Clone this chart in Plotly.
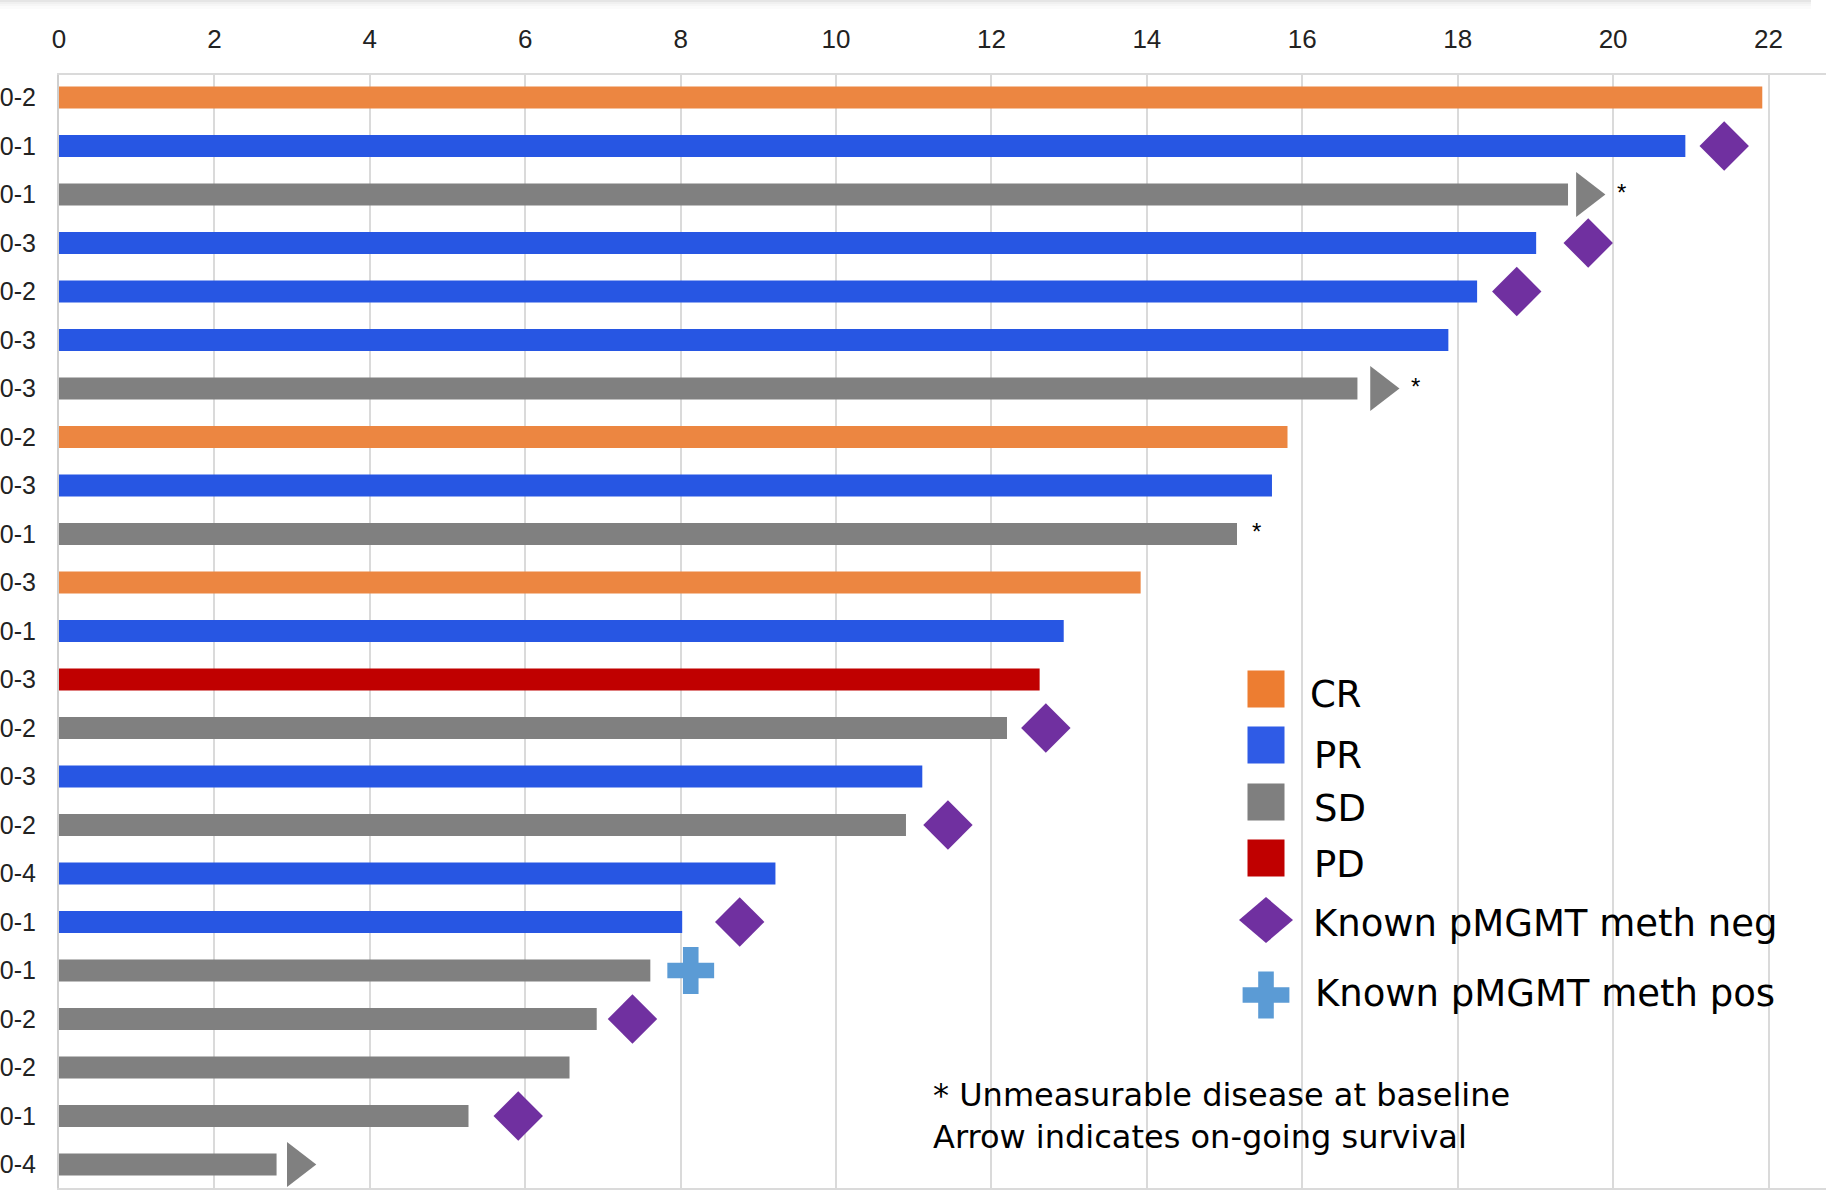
import plotly.graph_objects as go

# Patient rows, top to bottom
row_labels = ["0-2", "0-1", "0-1", "0-3", "0-2", "0-3", "0-3", "0-2", "0-3", "0-1",
              "0-3", "0-1", "0-3", "0-2", "0-3", "0-2", "0-4", "0-1", "0-1", "0-2",
              "0-2", "0-1", "0-4"]
# Survival (months) per patient
months = [21.92, 20.93, 19.42, 19.01, 18.25, 17.88, 16.71, 15.81, 15.61, 15.16,
          13.92, 12.93, 12.62, 12.20, 11.11, 10.90, 9.22, 8.02, 7.61, 6.92,
          6.57, 5.27, 2.80]
# Best response per patient
response = ["CR", "PR", "SD", "PR", "PR", "PR", "SD", "CR", "PR", "SD",
            "CR", "PR", "PD", "SD", "PR", "SD", "PR", "PR", "SD", "SD",
            "SD", "SD", "SD"]

# pMGMT methylation status markers
meth_neg_rows = [1, 3, 4, 13, 15, 17, 19, 21]
meth_neg_x = [21.43, 19.68, 18.76, 12.70, 11.44, 8.76, 7.38, 5.91]
meth_pos_rows = [18]
meth_pos_x = [8.13]

# On-going survival arrows
ongoing_rows = [2, 6, 22]
ongoing_x = [19.65, 17.00, 3.06]

# Unmeasurable disease at baseline
unmeasurable_rows = [2, 6, 9]

x_ticks = list(range(0, 23, 2))
response_order = ["CR", "PR", "SD", "PD"]
legend_labels = ["CR", "PR", "SD", "PD", "Known pMGMT meth neg", "Known pMGMT meth pos"]
footnote_lines = ["* Unmeasurable disease at baseline", "Arrow indicates on-going survival"]

bar_colors = {"CR": "#EC8641", "PR": "#2756E3", "SD": "#808080", "PD": "#C00000"}
legend_colors = {"CR": "#ED7D31", "PR": "#2F5BE6", "SD": "#7F7F7F", "PD": "#C00000"}
NEG_COLOR = "#7030A0"
POS_COLOR = "#5B9BD5"
ARROW_COLOR = "#808080"
GRID = "#DADADA"

W, H = 1826, 1201
ML, MR, MT, MB = 59, 0, 75, 13
X_MAX = 22.74

fig = go.Figure()

for resp in response_order:
    idx = [i for i, r in enumerate(response) if r == resp]
    fig.add_trace(go.Bar(
        orientation="h",
        y=idx,
        x=[months[i] for i in idx],
        width=0.45,
        marker=dict(color=bar_colors[resp], line=dict(width=0)),
        name=resp,
        showlegend=False,
    ))

fig.add_trace(go.Scatter(
    x=meth_neg_x, y=meth_neg_rows, mode="markers",
    marker=dict(symbol="diamond", size=38, color=NEG_COLOR, line=dict(width=0)),
    showlegend=False, cliponaxis=False,
))
fig.add_trace(go.Scatter(
    x=meth_pos_x, y=meth_pos_rows, mode="markers",
    marker=dict(symbol="cross", size=39, color=POS_COLOR, line=dict(width=0)),
    showlegend=False, cliponaxis=False,
))
fig.add_trace(go.Scatter(
    x=ongoing_x, y=ongoing_rows, mode="markers",
    marker=dict(symbol="triangle-right", size=39, color=ARROW_COLOR, line=dict(width=0)),
    showlegend=False, cliponaxis=False,
))

annotations = []
for r in unmeasurable_rows:
    if r in ongoing_rows:
        ax = ongoing_x[ongoing_rows.index(r)]
        shift = 36
    else:
        ax = months[r]
        shift = 19
    annotations.append(dict(
        x=ax, y=r, xref="x", yref="y", text="*", showarrow=False,
        xanchor="center", yanchor="middle", xshift=shift, yshift=2,
        font=dict(family="Liberation Sans, Arial", size=24, color="#000000"),
    ))

# Legend drawn on a pixel-scaled overlay
sq_centers_y = [689, 745, 802, 858]
for lab, cy in zip(response_order, sq_centers_y):
    fig.add_trace(go.Scatter(
        x=[1266], y=[cy], xaxis="x2", yaxis="y2", mode="markers",
        marker=dict(symbol="square", size=37, color=legend_colors[lab], line=dict(width=0)),
        showlegend=False, cliponaxis=False,
    ))
fig.add_trace(go.Scatter(
    x=[1266], y=[995], xaxis="x2", yaxis="y2", mode="markers",
    marker=dict(symbol="cross", size=39, color=POS_COLOR, line=dict(width=0)),
    showlegend=False, cliponaxis=False,
))

shapes = []
dcx, dcy, dhw, dhh = 1266, 920, 27, 23
shapes.append(dict(
    type="path", xref="x2", yref="y2",
    path=f"M {dcx-dhw},{dcy} L {dcx},{dcy-dhh} L {dcx+dhw},{dcy} L {dcx},{dcy+dhh} Z",
    fillcolor=NEG_COLOR, line=dict(width=0),
))

text_x = [1308, 1312, 1312, 1312, 1311, 1313]
text_y = [694, 755, 808, 864, 923, 993]
for lab, tx, ty in zip(legend_labels, text_x, text_y):
    annotations.append(dict(
        x=tx, y=ty, xref="x2", yref="y2", text=lab, showarrow=False,
        xanchor="left", yanchor="middle",
        font=dict(family="DejaVu Sans", size=37, color="#000000"),
    ))

annotations.append(dict(
    x=931, y=1116, xref="x2", yref="y2", text="<br>".join(footnote_lines),
    showarrow=False, xanchor="left", yanchor="middle", align="left",
    font=dict(family="DejaVu Sans", size=32, color="#000000"),
))

# faint drop shadow along the top edge
def py(v):
    return (H - MB - v) / (H - MT - MB)

def px(v):
    return (v - ML) / (W - ML - MR)

for y0, y1, a in [(0, 2, 0.10), (2, 4, 0.06), (4, 6, 0.035), (6, 9, 0.015)]:
    shapes.append(dict(
        type="rect", xref="paper", yref="paper",
        x0=px(0), x1=px(1811), y0=py(y1), y1=py(y0),
        fillcolor=f"rgba(0,0,0,{a})", line=dict(width=0), layer="above",
    ))

fig.update_layout(
    width=W, height=H,
    margin=dict(l=ML, r=MR, t=MT, b=MB),
    paper_bgcolor="white", plot_bgcolor="white",
    barmode="overlay",
    showlegend=False,
    xaxis=dict(
        side="top", range=[0, X_MAX], tickvals=x_ticks,
        ticktext=[str(v) for v in x_ticks],
        showgrid=True, gridcolor=GRID, gridwidth=2,
        zeroline=False, showline=True, linecolor=GRID, linewidth=2, mirror=True,
        ticks="", ticklabelstandoff=15,
        tickfont=dict(family="Liberation Sans, Arial", size=26, color="#222222"),
    ),
    yaxis=dict(
        range=[22.485, -0.464], tickvals=list(range(len(row_labels))),
        ticktext=row_labels, showgrid=False, zeroline=False,
        showline=True, linecolor="#CFCFCF", linewidth=2,
        ticks="", ticklabelstandoff=16, automargin=False,
        tickfont=dict(family="Liberation Sans, Arial", size=25, color="#222222"),
    ),
    xaxis2=dict(overlaying="x", anchor="y2", range=[ML, W - MR], visible=False, fixedrange=True),
    yaxis2=dict(overlaying="y", anchor="x2", range=[H - MB, MT], visible=False, fixedrange=True),
    annotations=annotations,
    shapes=shapes,
)

fig.write_html("out.html")
